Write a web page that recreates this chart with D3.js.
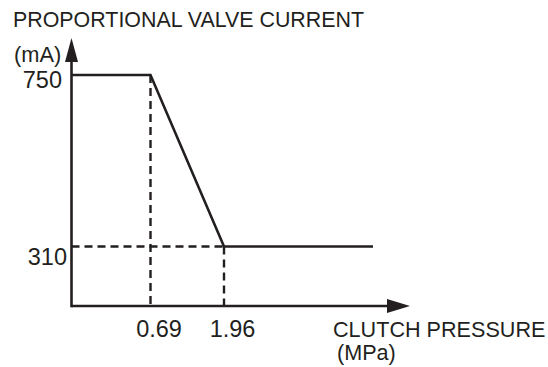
<!DOCTYPE html>
<html>
<head>
<meta charset="utf-8">
<script src="https://cdn.jsdelivr.net/npm/d3@7"></script>
<style>
  html, body { margin: 0; padding: 0; background: #fff; }
  svg { display: block; font-family: "Liberation Sans", Arial, Helvetica, sans-serif; }
</style>
</head>
<body>
<svg id="chart" width="548" height="367"></svg>
<script>
// Control characteristic: proportional valve current vs clutch pressure
const pressureTicks = [0.69, 1.96];          // MPa, labelled on the horizontal axis
const currentTicks = [310, 750];             // mA, labelled on the vertical axis
const pressure = [0, 0.69, 1.96, 4.0];       // MPa
const current = [750, 750, 310, 310];        // mA

const ink = "#231f20";
const svg = d3.select("#chart");

// Schematic (piecewise) scales
const x = d3.scaleLinear().domain([0, 0.69, 1.96, 4.0]).range([71.5, 150.5, 224, 373]);
const y = d3.scaleLinear().domain([0, 310, 750]).range([306, 246.5, 75]);

const x0 = x(0), y0 = y(0);
const xAxisEnd = 410, yAxisTop = 38;

// Guide lines (dashed)
const guides = [
  { x1: x(0), y1: y(310), x2: x(1.96), y2: y(310) },
  { x1: x(0.69), y1: y(750), x2: x(0.69), y2: y0 },
  { x1: x(1.96), y1: y(310), x2: x(1.96), y2: y0 }
];
svg.append("g").selectAll("line").data(guides).join("line")
  .attr("x1", d => d.x1).attr("y1", d => d.y1)
  .attr("x2", d => d.x2).attr("y2", d => d.y2)
  .attr("stroke", ink).attr("stroke-width", 2.4)
  .attr("stroke-dasharray", "8,5");

// Characteristic curve
const line = d3.line().x((d, i) => x(pressure[i])).y(d => y(d));
svg.append("path").datum(current)
  .attr("d", line)
  .attr("fill", "none").attr("stroke", ink)
  .attr("stroke-width", 2.6).attr("stroke-linejoin", "miter");

// Axis lines with arrowheads
svg.append("line").attr("x1", x0).attr("y1", y0).attr("x2", xAxisEnd - 20).attr("y2", y0)
  .attr("stroke", ink).attr("stroke-width", 2.6);
svg.append("line").attr("x1", x0).attr("y1", y0 + 1.3).attr("x2", x0).attr("y2", yAxisTop + 20)
  .attr("stroke", ink).attr("stroke-width", 2.6);
svg.append("path")
  .attr("d", `M${xAxisEnd},${y0} L${xAxisEnd - 23},${y0 - 7} L${xAxisEnd - 23},${y0 + 7} Z`)
  .attr("fill", ink);
svg.append("path")
  .attr("d", `M${x0},${yAxisTop} L${x0 - 6.5},${yAxisTop + 24} L${x0 + 6.5},${yAxisTop + 24} Z`)
  .attr("fill", ink);

// Tick labels
const gx = svg.append("g").attr("transform", `translate(0,${y0})`)
  .call(d3.axisBottom(x).tickValues(pressureTicks).tickSize(0).tickFormat(d3.format(".2f")));
gx.select(".domain").remove();
gx.selectAll("text")
  .attr("y", 31).attr("dy", 0).attr("dx", 8)
  .attr("font-size", 23.5).attr("font-family", null).attr("fill", ink);

const gy = svg.append("g").attr("transform", `translate(${x0},0)`)
  .call(d3.axisLeft(y).tickValues(currentTicks).tickSize(0));
gy.select(".domain").remove();
gy.selectAll("text")
  .attr("x", d => d === 750 ? -9.5 : -4.5)
  .attr("dy", d => d === 750 ? 12.5 : 17.5)
  .attr("font-size", 23.5).attr("font-family", null).attr("fill", ink);

// Axis titles
svg.append("text").attr("x", 13).attr("y", 27)
  .attr("font-size", 21.4).attr("fill", ink).text("PROPORTIONAL VALVE CURRENT");
svg.append("text").attr("x", 14).attr("y", 61.5)
  .attr("font-size", 21.8).attr("fill", ink).text("(mA)");
svg.append("text").attr("x", 333).attr("y", 337)
  .attr("font-size", 21.6).attr("fill", ink).text("CLUTCH PRESSURE");
svg.append("text").attr("x", 337).attr("y", 360)
  .attr("font-size", 21.6).attr("fill", ink).text("(MPa)");
</script>
</body>
</html>
